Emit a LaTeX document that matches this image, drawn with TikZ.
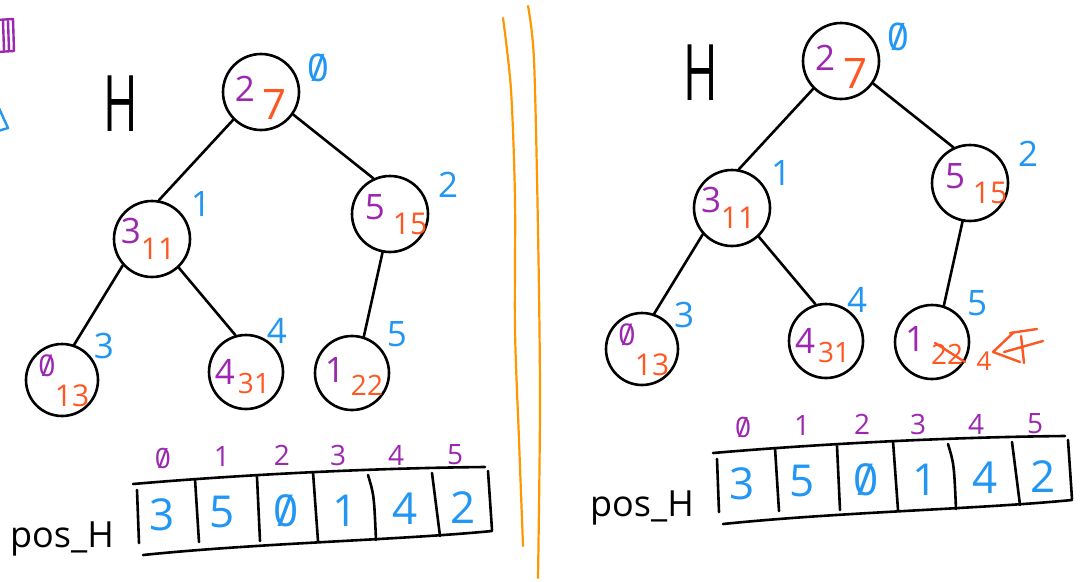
\documentclass[tikz,border=0pt]{standalone}
\usepackage{fontspec}
\setmainfont{Open Sans}
\usepackage{graphicx}
\definecolor{kpurple}{HTML}{9C27B0}
\definecolor{korange}{HTML}{FF5722}
\definecolor{kblue}{HTML}{2196F3}
\definecolor{kdiv}{HTML}{FF9800}
\newcommand\slz{\mbox{\ooalign{0\cr\hidewidth/\hidewidth\cr}}}
\tikzset{
  hnode/.style={circle, draw, line width=2.6pt, minimum size=76pt, inner sep=0pt},
  keytxt/.style={text=kpurple, font=\fontsize{35}{35}\selectfont, inner sep=0pt},
  valtxt/.style={text=korange, font=\fontsize{30}{30}\selectfont, inner sep=0pt},
  postxt/.style={text=kblue, font=\fontsize{35}{35}\selectfont, inner sep=0pt},
  edgeline/.style={line width=2.6pt, line cap=round},
  arr/.style={line width=2.6pt, line cap=round},
  idxtxt/.style={text=kpurple, font=\fontsize{28}{28}\selectfont, inner sep=0pt},
  celltxt/.style={text=kblue, font=\fontsize{44}{44}\selectfont, inner sep=0pt},
  bigtxt/.style={font=\fontsize{78}{78}\selectfont, inner sep=0pt},
  labtxt/.style={font=\fontsize{36}{36}\selectfont, inner sep=0pt},
  penstroke/.style={line width=2.4pt, line cap=round, line join=round}
}
\newcommand\heaphalf[1]{%
  \node[bigtxt] (#1H) at (121,104) {\scalebox{0.6}[1]{H}};
  \node[hnode] (#1r) at (261,92) {};
  \node[hnode] (#1a) at (152,239) {};
  \node[hnode] (#1b) at (390,214) {};
  \node[hnode, minimum size=72pt] (#1c) at (62,380) {};
  \node[hnode, minimum size=74pt] (#1d) at (246,372) {};
  \node[hnode, minimum size=74pt] (#1e) at (352,373) {};
  \draw[edgeline] (#1r.225) -- (#1a.80);
  \draw[edgeline] (#1r.325) -- (#1b.115);
  \draw[edgeline] (#1a.222) -- (#1c.71);
  \draw[edgeline] (#1a.313) -- (#1d.106);
  \draw[edgeline] (#1b.259) -- (#1e.72);
  % keys
  \node[keytxt] (#1rk) at ([shift={(-16,-3)}]#1r.center) {2};
  \node[keytxt] (#1ak) at ([shift={(-21,-8)}]#1a.center) {3};
  \node[keytxt] (#1bk) at ([shift={(-15,-7)}]#1b.center) {5};
  \node[keytxt, font=\fontsize{30}{30}\selectfont] (#1ck) at ([shift={(-15,-14)}]#1c.center) {\slz};
  \node[keytxt] (#1dk) at ([shift={(-21,0)}]#1d.center) {4};
  \node[keytxt] (#1ek) at ([shift={(-17,-3)}]#1e.center) {1};
  % values
  \node[valtxt, font=\fontsize{42}{42}\selectfont] (#1rv) at ([shift={(14,13)}]#1r.center) {7};
  \node[valtxt] (#1av) at ([shift={(6,10)}]#1a.center) {11};
  \node[valtxt] (#1bv) at ([shift={(20,10)}]#1b.center) {15};
  \node[valtxt] (#1cv) at ([shift={(10,16)}]#1c.center) {13};
  \node[valtxt, font=\fontsize{28}{28}\selectfont] (#1dv) at ([shift={(8,11)}]#1d.center) {31};
  \node[valtxt, font=\fontsize{28}{28}\selectfont] (#1ev) at ([shift={(15,12)}]#1e.center) {22};
  % positions
  \node[postxt, font=\fontsize{38}{38}\selectfont] (#1rp) at (318,68) {\slz};
  \node[postxt] (#1ap) at (201,204) {1};
  \node[postxt] (#1bp) at (448,185) {2};
  \node[postxt] (#1cp) at (104,346) {3};
  \node[postxt] (#1dp) at (277,331) {4};
  \node[postxt] (#1ep) at (397,334) {5};
  % array
  \draw[arr] (133,484) .. controls (250,474) and (380,468) .. (485,467);
  \draw[arr] (143,555) .. controls (260,543) and (400,540) .. (492,531);
  \draw[arr] (137,490) -- (139,543);
  \draw[arr] (195,479) -- (199,542);
  \draw[arr] (257,477) -- (260,541);
  \draw[arr] (313,472) -- (318,541);
  \draw[arr] (368,475) .. controls (374,495) .. (376,540);
  \draw[arr] (432,473) -- (440,536);
  \draw[arr] (488,471) -- (492,530);
  \node[idxtxt] (#1i0) at (163,458) {\slz};
  \node[idxtxt] (#1i1) at (222,456) {1};
  \node[idxtxt] (#1i2) at (282,455) {2};
  \node[idxtxt] (#1i3) at (338,455) {3};
  \node[idxtxt] (#1i4) at (396,455) {4};
  \node[idxtxt] (#1i5) at (455,455) {5};
  \node[celltxt] (#1v0) at (162,515) {3};
  \node[celltxt] (#1v1) at (222,512) {5};
  \node[celltxt] (#1v2) at (286,511) {\slz};
  \node[celltxt] (#1v3) at (345,511) {1};
  \node[celltxt] (#1v4) at (405,509) {4};
  \node[celltxt] (#1v5) at (463,508) {2};
  \node[labtxt, anchor=base] (#1pos) at (62,547) {pos\_H};
}
\begin{document}
\begin{tikzpicture}[x=1pt, y=-1pt]
  \useasboundingbox (0,0) rectangle (1086,581);
  \fill[white] (0,0) rectangle (1086,581);
  % partial marks at the left edge
  \draw[kpurple, penstroke] (-3,20) -- (13,19) -- (14,51) -- (-3,52);
  \draw[kpurple, penstroke] (3,21) -- (4,50) (8,21) -- (9,50);
  \draw[kblue, penstroke] (-2,106) -- (8,128) -- (-2,131);
  % dividers
  \draw[kdiv, line width=2.2pt, line cap=round] plot[smooth] coordinates {(503,18) (511,90) (515,200) (515,330) (519,440) (523,546)};
  \draw[kdiv, line width=2.2pt, line cap=round] plot[smooth] coordinates {(528,6) (534,60) (538,230) (540,400) (538,578)};
  % left half
  \heaphalf{L}
  % right half
  \begin{scope}[shift={(580,-31)}]
    \heaphalf{R}
  \end{scope}
  % changes on the right
  \draw[korange, penstroke] (935,343) -- (965,362);
  \node[valtxt, font=\fontsize{26}{26}\selectfont] (newv) at (984,361) {4};
  \draw[korange, penstroke] (1013,333) -- (993,352) -- (1020,362);
  \draw[korange, penstroke] (1010,333) -- (1037,329);
  \draw[korange, penstroke] (1021,336) -- (1024,363);
  \draw[korange, penstroke] (1004,352) -- (1043,341);
\end{tikzpicture}
\end{document}
